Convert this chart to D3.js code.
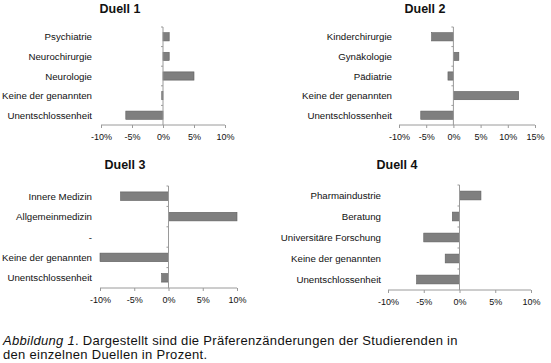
<!DOCTYPE html>
<html>
<head>
<meta charset="utf-8">
<script src="https://cdn.jsdelivr.net/npm/d3@7"></script>
<style>
  html, body { margin: 0; padding: 0; background: #fff; }
  svg { display: block; }
  text { font-family: Arial, "Liberation Sans", sans-serif; fill: #111; }
</style>
</head>
<body>
<svg id="chart" width="551" height="363"></svg>
<script>
// ---- Data ----
const duell1Categories = ["Psychiatrie", "Neurochirurgie", "Neurologie", "Keine der genannten", "Unentschlossenheit"];
const duell1Values = [1, 1, 5, -0.2, -6];
const duell2Categories = ["Kinderchirurgie", "Gynäkologie", "Pädiatrie", "Keine der genannten", "Unentschlossenheit"];
const duell2Values = [-4, 1, -1, 12, -6];
const duell3Categories = ["Innere Medizin", "Allgemeinmedizin", "-", "Keine der genannten", "Unentschlossenheit"];
const duell3Values = [-7, 10, 0, -10, -1];
const duell4Categories = ["Pharmaindustrie", "Beratung", "Universitäre Forschung", "Keine der genannten", "Unentschlossenheit"];
const duell4Values = [3, -1, -5, -2, -6];
const ticks10 = [-10, -5, 0, 5, 10];
const ticks15 = [-10, -5, 0, 5, 10, 15];
const titles = ["Duell 1", "Duell 2", "Duell 3", "Duell 4"];

// ---- Layout ----
const panels = [
  { title: titles[0], cats: duell1Categories, vals: duell1Values, domain: [-10, 10], ticks: ticks10, xr: [101, 225], yr: [27, 125], lx: 92, tx: 120, ty: 13 },
  { title: titles[1], cats: duell2Categories, vals: duell2Values, domain: [-10, 15], ticks: ticks15, xr: [399, 535], yr: [27, 125], lx: 392, tx: 425, ty: 13 },
  { title: titles[2], cats: duell3Categories, vals: duell3Values, domain: [-10, 10], ticks: ticks10, xr: [100, 237], yr: [186, 288], lx: 92, tx: 125, ty: 169 },
  { title: titles[3], cats: duell4Categories, vals: duell4Values, domain: [-10, 10], ticks: ticks10, xr: [388, 531], yr: [185, 290], lx: 381, tx: 397, ty: 169 }
];

const svg = d3.select("#chart");
const axisColor = "#9a9a9a";

panels.forEach(p => {
  const g = svg.append("g");
  const x = d3.scaleLinear().domain(p.domain).range(p.xr);
  const y = d3.scaleBand().domain(p.cats).range(p.yr).paddingInner(0.58).paddingOuter(0.29);
  const yStep = d3.scaleBand().domain(p.cats).range(p.yr);

  // title
  g.append("text").attr("x", p.tx).attr("y", p.ty).attr("text-anchor", "middle")
    .style("font-weight", "bold").style("font-size", "12.5px").text(p.title);

  // bars
  const data = p.cats.map((c, i) => ({ c, v: p.vals[i] })).filter(d => d.v !== 0);
  g.selectAll("rect.bar").data(data).enter().append("rect")
    .attr("class", "bar")
    .attr("x", d => x(Math.min(0, d.v)))
    .attr("width", d => Math.abs(x(d.v) - x(0)))
    .attr("y", d => y(d.c))
    .attr("height", y.bandwidth())
    .attr("fill", "#7f7f7f")
    .attr("stroke", "#5e5e5e")
    .attr("stroke-width", 0.6);

  // x axis
  const xAxis = d3.axisBottom(x).tickValues(p.ticks).tickSize(3).tickFormat(d => d + "%");
  const xa = g.append("g").attr("transform", `translate(0,${p.yr[1]})`).call(xAxis);
  xa.select(".domain").attr("stroke", axisColor).attr("d", `M${p.xr[0]},0H${p.xr[1]}`);
  xa.selectAll(".tick line").attr("stroke", axisColor);
  xa.selectAll(".tick text").attr("y", 8.5).attr("dy", "0.71em")
    .style("font-size", "9px").style("font-family", "Arial, 'Liberation Sans', sans-serif").attr("fill", "#111");

  // y axis line at zero
  const x0 = x(0);
  g.append("line").attr("x1", x0).attr("x2", x0).attr("y1", p.yr[0]).attr("y2", p.yr[1])
    .attr("stroke", axisColor).attr("stroke-width", 1);
  // y ticks at band boundaries
  const bounds = p.cats.map(c => yStep(c));
  g.selectAll("line.ytick").data(bounds).enter().append("line")
    .attr("x1", x0 - 2).attr("x2", x0)
    .attr("y1", d => d).attr("y2", d => d)
    .attr("stroke", axisColor);

  // category labels
  g.selectAll("text.cat").data(p.cats).enter().append("text")
    .attr("x", p.lx)
    .attr("y", d => yStep(d) + yStep.bandwidth() / 2)
    .attr("dy", "0.38em")
    .attr("text-anchor", "end")
    .style("font-size", "9.7px")
    .text(d => d);
});

// caption
const cap = svg.append("text").attr("x", 3).attr("y", 344.5)
  .style("font-size", "13px").style("letter-spacing", "0.3px");
cap.append("tspan").style("font-style", "italic").text("Abbildung 1");
cap.append("tspan").text(". Dargestellt sind die Präferenzänderungen der Studierenden in");
svg.append("text").attr("x", 3).attr("y", 358.5)
  .style("font-size", "13px").style("letter-spacing", "0.3px")
  .text("den einzelnen Duellen in Prozent.");
</script>
</body>
</html>
